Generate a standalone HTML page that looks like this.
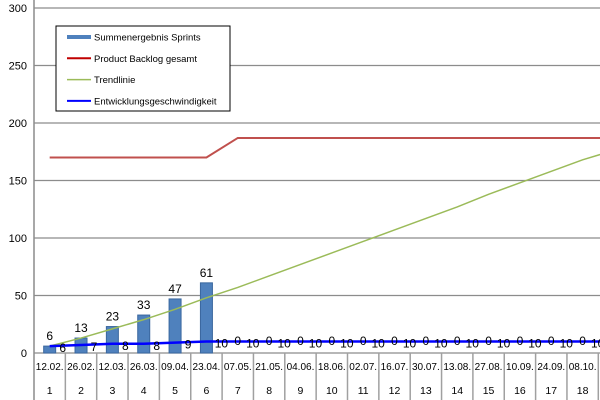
<!DOCTYPE html>
<html><head><style>body{margin:0;background:#fff}svg{display:block;font-family:"Liberation Sans",sans-serif}</style></head>
<body>
<svg id="s" width="600" height="400" xmlns="http://www.w3.org/2000/svg"></svg>
<script>
var s='',X0=34,W=31.35,Y0=353,K=345/300;
function x(i){return X0+(i-0.5)*W;}function y(v){return Y0-v*K;}
for(var v=0;v<=300;v+=50){s+='<line x1="34" x2="600" y1="'+y(v)+'" y2="'+y(v)+'" stroke="#8c8c8c" stroke-width="1.2"/>';
s+='<text x="27" y="'+(y(v)+4)+'" font-size="11" text-anchor="end">'+v+'</text>';}
s+='<line x1="34" x2="34" y1="0" y2="400" stroke="#8c8c8c" stroke-width="1.5"/>';
var dates=["12.02.","26.02.","12.03.","26.03.","09.04.","23.04.","07.05.","21.05.","04.06.","18.06.","02.07.","16.07.","30.07.","13.08.","27.08.","10.09.","24.09.","08.10."];
for(var i=1;i<=19;i++){var bx=X0+i*W;s+='<line x1="'+bx+'" x2="'+bx+'" y1="353" y2="400" stroke="#a0a0a0" stroke-width="1.5"/>';}
for(var i=1;i<=18;i++){s+='<text x="'+x(i)+'" y="370" font-size="10" text-anchor="middle">'+dates[i-1]+'</text><text x="'+x(i)+'" y="394" font-size="10.5" text-anchor="middle">'+i+'</text>';}
var bars=[6,13,23,33,47,61];
for(var i=1;i<=6;i++){var h=bars[i-1]*K;s+='<rect x="'+(x(i)-6)+'" y="'+(Y0-h)+'" width="12" height="'+h+'" fill="#4f81bd" stroke="#3a679e"/>';
s+='<text x="'+x(i)+'" y="'+(Y0-h-6)+'" font-size="12" text-anchor="middle">'+bars[i-1]+'</text>';}
s+='<polyline fill="none" stroke="#c0504d" stroke-width="2" points="'+x(1)+','+y(170)+' '+x(6)+','+y(170)+' '+x(7)+','+y(187)+' 600,'+y(187)+'"/>';
var tr=[[1,6],[2,13],[3,21],[4,29],[5,38],[6,48],[7,57],[8,67],[9,77],[10,87],[11,97],[12,107],[13,117],[14,127],[15,138],[16,148],[17,158],[18,168],[19.1,177]];
s+='<polyline fill="none" stroke="#9bbb59" stroke-width="1.5" points="'+tr.map(function(p){return x(p[0])+','+y(p[1]);}).join(' ')+'"/>';
var vel=[6,7,8,8,9,10,10,10,10,10,10,10,10,10,10,10,10,10,10];
s+='<polyline fill="none" stroke="#0000ff" stroke-width="2.5" points="'+vel.map(function(v,i){return x(i+1)+','+y(v);}).join(' ')+'"/>';
for(var i=7;i<=19;i++)s+='<text x="'+x(i)+'" y="345" font-size="12" text-anchor="middle">0</text>';
for(var i=1;i<=19;i++){s+='<text x="'+(x(i)+(vel[i-1]>=10?15:13))+'" y="'+(y(vel[i-1])+6)+'" font-size="12" text-anchor="middle">'+vel[i-1]+'</text>';}
s+='<rect x="56" y="26" width="174" height="85" fill="#fff" stroke="#000" stroke-width="1"/>';
var L=[["Summenergebnis Sprints","#4f81bd",4],["Product Backlog gesamt","#c00000",2],["Trendlinie","#9bbb59",1.5],["Entwicklungsgeschwindigkeit","#0000ff",2]];
L.forEach(function(l,k){var yy=37+k*21.3;s+='<line x1="67" x2="91" y1="'+yy+'" y2="'+yy+'" stroke="'+l[1]+'" stroke-width="'+l[2]+'"/><text x="94" y="'+(yy+3.5)+'" font-size="9.5">'+l[0]+'</text>';});
document.getElementById('s').innerHTML=s;
</script>
</body></html>
